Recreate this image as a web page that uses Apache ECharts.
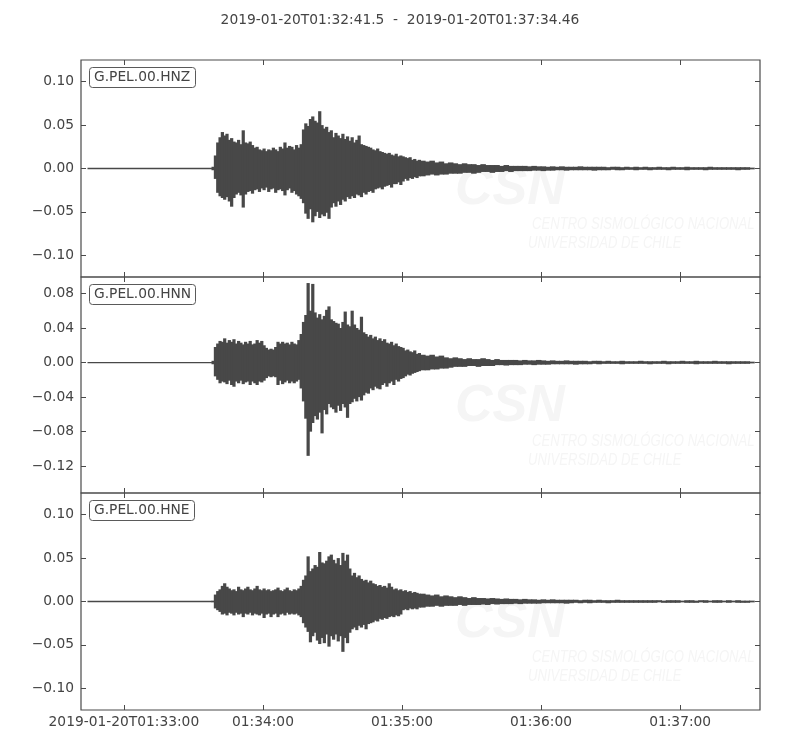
<!DOCTYPE html>
<html>
<head>
<meta charset="utf-8">
<script src="https://cdn.jsdelivr.net/npm/echarts@6/dist/echarts.min.js"></script>
<style>
html, body { margin: 0; padding: 0; background: #ffffff; }
#chart { width: 800px; height: 750px; }
</style>
</head>
<body>
<div id="chart"></div>
<script>
// ---------------- DATA ----------------
// Time in seconds relative to 2019-01-20T01:33:00
const titleText = '2019-01-20T01:32:41.5  -  2019-01-20T01:37:34.46';
const xAxisStart = -18.5;     // 01:32:41.5
const xAxisEnd = 274.46;      // 01:37:34.46
const xTickSeconds = [0, 60, 120, 180, 240];
const xTickLabels = ['2019-01-20T01:33:00', '01:34:00', '01:35:00', '01:36:00', '01:37:00'];

const channelNames = ['G.PEL.00.HNZ', 'G.PEL.00.HNN', 'G.PEL.00.HNE'];

const hnzTicks = [-0.10, -0.05, 0.00, 0.05, 0.10];
const hnnTicks = [-0.12, -0.08, -0.04, 0.00, 0.04, 0.08];
const hneTicks = [-0.10, -0.05, 0.00, 0.05, 0.10];
const hnzRange = [-0.125, 0.125];
const hnnRange = [-0.151, 0.099];
const hneRange = [-0.125, 0.125];

// quiet pre-event trace (flat) from traceStart to first bin
const traceStart = -15.7;

// envelope bins: 1 s bins from t=38 to 127, then 2 s bins from 128 to 270
const binTimes = [];
for (let t = 38; t < 128; t += 1) binTimes.push(t);
for (let t = 128; t <= 270; t += 2) binTimes.push(t);

// per-bin maximum / minimum amplitude
const hnzMax = [
  0.002, 0.015, 0.030, 0.036, 0.042, 0.038, 0.040, 0.033, 0.035, 0.031,
  0.030, 0.033, 0.028, 0.044, 0.030, 0.029, 0.031, 0.027, 0.024, 0.025,
  0.022, 0.021, 0.023, 0.020, 0.022, 0.021, 0.024, 0.022, 0.020, 0.025,
  0.023, 0.030, 0.024, 0.026, 0.025, 0.022, 0.027, 0.024, 0.028, 0.045,
  0.052, 0.049, 0.057, 0.060, 0.055, 0.053, 0.066, 0.050, 0.046, 0.048,
  0.042, 0.044, 0.036, 0.041, 0.038, 0.035, 0.040, 0.034, 0.037, 0.032,
  0.036, 0.030, 0.033, 0.038, 0.028, 0.027, 0.026, 0.025, 0.024, 0.022,
  0.021, 0.023, 0.020, 0.019, 0.018, 0.017, 0.018, 0.016, 0.015, 0.017,
  0.014, 0.015, 0.014, 0.013, 0.012, 0.013, 0.010, 0.011, 0.009, 0.010,
  0.009, 0.008, 0.009, 0.007, 0.008, 0.006, 0.007, 0.006, 0.005, 0.006,
  0.005, 0.005, 0.004, 0.005, 0.004, 0.004, 0.004, 0.003, 0.004, 0.003,
  0.003, 0.003, 0.003, 0.0025, 0.003, 0.0025, 0.0025, 0.002, 0.0025, 0.002,
  0.0025, 0.002, 0.002, 0.002, 0.0025, 0.002, 0.002, 0.002, 0.002, 0.002,
  0.0015, 0.002, 0.002, 0.0015, 0.002, 0.0015, 0.002, 0.0015, 0.002, 0.0015,
  0.0015, 0.002, 0.0015, 0.0015, 0.002, 0.0015, 0.0015, 0.002, 0.0015, 0.0015,
  0.0015, 0.0015, 0.002, 0.0015, 0.0015, 0.0015, 0.0015, 0.0015, 0.0015, 0.0015,
  0.0015, 0.001
];
const hnzMin = [
  -0.002, -0.012, -0.028, -0.032, -0.034, -0.036, -0.033, -0.038, -0.044, -0.034,
  -0.030, -0.028, -0.031, -0.045, -0.030, -0.027, -0.026, -0.029, -0.025, -0.024,
  -0.027, -0.023, -0.025, -0.022, -0.027, -0.024, -0.023, -0.028, -0.025, -0.024,
  -0.026, -0.031, -0.025, -0.023, -0.028, -0.026, -0.030, -0.032, -0.035, -0.040,
  -0.052, -0.058, -0.047, -0.062, -0.055, -0.050, -0.057, -0.053, -0.055, -0.051,
  -0.058, -0.045, -0.040, -0.044, -0.038, -0.042, -0.036, -0.038, -0.033, -0.035,
  -0.032, -0.034, -0.030, -0.031, -0.033, -0.028, -0.030, -0.027, -0.026, -0.028,
  -0.024, -0.023, -0.022, -0.024, -0.021, -0.020, -0.019, -0.022, -0.018, -0.018,
  -0.016, -0.019, -0.015, -0.012, -0.014, -0.011, -0.012, -0.010, -0.011, -0.009,
  -0.009, -0.008, -0.007, -0.008, -0.007, -0.007, -0.006, -0.006, -0.006, -0.005,
  -0.005, -0.006, -0.005, -0.004, -0.004, -0.005, -0.004, -0.004, -0.003, -0.004,
  -0.003, -0.003, -0.003, -0.003, -0.0025, -0.0025, -0.003, -0.0025, -0.0025, -0.002,
  -0.002, -0.0025, -0.002, -0.002, -0.002, -0.002, -0.002, -0.0025, -0.002, -0.002,
  -0.002, -0.0015, -0.002, -0.002, -0.0015, -0.0015, -0.002, -0.0015, -0.0015, -0.002,
  -0.0015, -0.0015, -0.0015, -0.002, -0.0015, -0.0015, -0.0015, -0.002, -0.0015, -0.0015,
  -0.0015, -0.002, -0.0015, -0.0015, -0.0015, -0.0015, -0.0015, -0.0015, -0.002, -0.0015,
  -0.0015, -0.001
];

const hnnMax = [
  0.002, 0.018, 0.022, 0.025, 0.024, 0.028, 0.023, 0.026, 0.024, 0.027,
  0.022, 0.025, 0.023, 0.021, 0.024, 0.022, 0.025, 0.021, 0.022, 0.026,
  0.023, 0.025, 0.020, 0.017, 0.015, 0.016, 0.015, 0.018, 0.024, 0.022,
  0.024, 0.022, 0.023, 0.021, 0.024, 0.022, 0.021, 0.026, 0.033, 0.047,
  0.055, 0.092, 0.060, 0.091, 0.058, 0.052, 0.056, 0.050, 0.054, 0.061,
  0.065, 0.050, 0.048, 0.046, 0.045, 0.040, 0.047, 0.059, 0.044, 0.042,
  0.060, 0.044, 0.040, 0.038, 0.053, 0.035, 0.033, 0.030, 0.032, 0.028,
  0.030, 0.026, 0.028, 0.025, 0.027, 0.023, 0.022, 0.024, 0.020, 0.022,
  0.019, 0.018, 0.017, 0.014, 0.015, 0.013, 0.012, 0.014, 0.010, 0.011,
  0.009, 0.008, 0.009, 0.007, 0.008, 0.006, 0.005, 0.006, 0.005, 0.004,
  0.005, 0.004, 0.004, 0.005, 0.004, 0.003, 0.004, 0.003, 0.003, 0.003,
  0.003, 0.0025, 0.003, 0.0025, 0.0025, 0.003, 0.0025, 0.002, 0.0025, 0.002,
  0.002, 0.0025, 0.002, 0.002, 0.002, 0.002, 0.0015, 0.002, 0.002, 0.0015,
  0.002, 0.0015, 0.0015, 0.002, 0.0015, 0.0015, 0.0015, 0.002, 0.0015, 0.0015,
  0.0015, 0.0015, 0.002, 0.0015, 0.0015, 0.0015, 0.002, 0.0015, 0.0015, 0.002,
  0.0015, 0.0015, 0.0015, 0.002, 0.0015, 0.0015, 0.0015, 0.0015, 0.0015, 0.0015,
  0.0015, 0.001
];
const hnnMin = [
  -0.002, -0.016, -0.020, -0.024, -0.022, -0.023, -0.025, -0.021, -0.026, -0.028,
  -0.022, -0.024, -0.021, -0.025, -0.023, -0.022, -0.026, -0.022, -0.024, -0.026,
  -0.022, -0.023, -0.021, -0.018, -0.016, -0.017, -0.016, -0.017, -0.026, -0.021,
  -0.025, -0.023, -0.021, -0.024, -0.022, -0.024, -0.022, -0.020, -0.030, -0.045,
  -0.065, -0.108, -0.080, -0.070, -0.062, -0.066, -0.058, -0.082, -0.055, -0.060,
  -0.048, -0.052, -0.054, -0.058, -0.050, -0.056, -0.048, -0.052, -0.064, -0.048,
  -0.046, -0.042, -0.045, -0.040, -0.044, -0.038, -0.035, -0.036, -0.030, -0.032,
  -0.028, -0.030, -0.031, -0.026, -0.024, -0.028, -0.024, -0.022, -0.026, -0.020,
  -0.022, -0.019, -0.018, -0.016, -0.014, -0.015, -0.013, -0.012, -0.011, -0.010,
  -0.009, -0.009, -0.008, -0.008, -0.007, -0.007, -0.006, -0.005, -0.005, -0.005,
  -0.004, -0.004, -0.005, -0.004, -0.004, -0.004, -0.003, -0.003, -0.0035, -0.003,
  -0.003, -0.003, -0.0025, -0.0025, -0.003, -0.0025, -0.0025, -0.0025, -0.002, -0.002,
  -0.002, -0.002, -0.002, -0.0025, -0.002, -0.002, -0.002, -0.0015, -0.002, -0.0015,
  -0.0015, -0.0015, -0.0015, -0.002, -0.0015, -0.0015, -0.0015, -0.0015, -0.0015, -0.002,
  -0.0015, -0.0015, -0.0015, -0.002, -0.0015, -0.0015, -0.0015, -0.0015, -0.0015, -0.002,
  -0.0015, -0.0015, -0.0015, -0.0015, -0.0015, -0.0015, -0.002, -0.0015, -0.0015, -0.0015,
  -0.0015, -0.001
];

const hneMax = [
  0.001, 0.008, 0.012, 0.014, 0.018, 0.021, 0.017, 0.015, 0.013, 0.014,
  0.012, 0.017, 0.014, 0.013, 0.015, 0.017, 0.014, 0.013, 0.015, 0.018,
  0.014, 0.013, 0.015, 0.013, 0.014, 0.012, 0.013, 0.014, 0.016, 0.013,
  0.012, 0.014, 0.016, 0.013, 0.012, 0.014, 0.013, 0.015, 0.018, 0.025,
  0.030, 0.052, 0.035, 0.038, 0.042, 0.040, 0.057, 0.045, 0.044, 0.047,
  0.052, 0.054, 0.048, 0.044, 0.050, 0.042, 0.056, 0.047, 0.054, 0.038,
  0.030, 0.033, 0.028, 0.030, 0.026, 0.024, 0.025, 0.022, 0.024, 0.021,
  0.020, 0.018, 0.019, 0.017, 0.018, 0.016, 0.021, 0.017, 0.014, 0.015,
  0.013, 0.014, 0.012, 0.013, 0.011, 0.012, 0.010, 0.011, 0.010, 0.009,
  0.009, 0.008, 0.007, 0.008, 0.006, 0.007, 0.006, 0.005, 0.006, 0.005,
  0.004, 0.005, 0.004, 0.004, 0.0035, 0.004, 0.0035, 0.003, 0.0035, 0.003,
  0.003, 0.0025, 0.003, 0.0025, 0.0025, 0.002, 0.0025, 0.002, 0.0025, 0.002,
  0.002, 0.002, 0.002, 0.002, 0.0015, 0.002, 0.002, 0.0015, 0.002, 0.0015,
  0.0015, 0.0015, 0.002, 0.0015, 0.0015, 0.0015, 0.0015, 0.0015, 0.0015, 0.0015,
  0.0015, 0.0015, 0.001, 0.0015, 0.0015, 0.0015, 0.001, 0.0015, 0.0015, 0.001,
  0.0015, 0.0015, 0.001, 0.0015, 0.0015, 0.001, 0.0015, 0.001, 0.0015, 0.001,
  0.001, 0.001
];
const hneMin = [
  -0.001, -0.008, -0.010, -0.012, -0.015, -0.014, -0.016, -0.013, -0.014, -0.016,
  -0.013, -0.015, -0.014, -0.018, -0.014, -0.015, -0.013, -0.016, -0.014, -0.015,
  -0.016, -0.014, -0.019, -0.015, -0.014, -0.018, -0.015, -0.014, -0.018, -0.015,
  -0.014, -0.016, -0.013, -0.015, -0.014, -0.015, -0.014, -0.016, -0.018, -0.025,
  -0.030, -0.035, -0.047, -0.040, -0.036, -0.045, -0.049, -0.042, -0.048, -0.038,
  -0.052, -0.040, -0.044, -0.038, -0.046, -0.040, -0.058, -0.042, -0.048, -0.036,
  -0.032, -0.030, -0.033, -0.028, -0.030, -0.027, -0.032, -0.026, -0.025, -0.024,
  -0.022, -0.023, -0.020, -0.021, -0.019, -0.020, -0.018, -0.017, -0.018, -0.016,
  -0.017, -0.015, -0.010, -0.009, -0.010, -0.008, -0.009, -0.008, -0.009, -0.007,
  -0.007, -0.006, -0.006, -0.005, -0.006, -0.005, -0.005, -0.005, -0.004, -0.005,
  -0.004, -0.004, -0.004, -0.0035, -0.004, -0.003, -0.0035, -0.003, -0.003, -0.003,
  -0.0025, -0.003, -0.0025, -0.0025, -0.0025, -0.0025, -0.002, -0.002, -0.002, -0.002,
  -0.002, -0.0025, -0.002, -0.0015, -0.002, -0.0015, -0.002, -0.0015, -0.0015, -0.0015,
  -0.002, -0.0015, -0.0015, -0.0015, -0.0015, -0.0015, -0.0015, -0.0015, -0.0015, -0.0015,
  -0.0015, -0.001, -0.0015, -0.0015, -0.0015, -0.0015, -0.001, -0.0015, -0.0015, -0.0015,
  -0.001, -0.0015, -0.001, -0.0015, -0.0015, -0.001, -0.0015, -0.001, -0.0015, -0.0015,
  -0.0015, -0.001
];

// ---------------- LAYOUT / STYLE ----------------
const FONT = '"DejaVu Sans", sans-serif';
const TEXT_COLOR = '#444444';
const FRAME_COLOR = '#4a4a4a';
const TRACE_COLOR = '#484848';
const FS = 13.8;
const GRID_LEFT = 81, GRID_RIGHT = 40;
const panelTops = [60, 277, 493];
const panelHeights = [217, 216, 217];

const ranges = [hnzRange, hnnRange, hneRange];
const yTicks = [hnzTicks, hnnTicks, hneTicks];
const traces = [[hnzMax, hnzMin], [hnnMax, hnnMin], [hneMax, hneMin]];

// bins as [startTime, width, max, min]
function buildBins(maxArr, minArr) {
  const out = [];
  for (let i = 0; i < binTimes.length; i++) {
    const t = binTimes[i];
    const w = (i + 1 < binTimes.length) ? binTimes[i + 1] - t : 2;
    out.push([t, w, maxArr[i], minArr[i]]);
  }
  return out;
}

function renderBin(params, api) {
  const t = api.value(0), w = api.value(1), hi = api.value(2), lo = api.value(3);
  const p1 = api.coord([t, hi]);
  const p2 = api.coord([t + w, lo]);
  const h = Math.max(p2[1] - p1[1], 1.2);
  const cy = (p1[1] + p2[1]) / 2;
  return {
    type: 'rect',
    shape: { x: p1[0] - 0.45, y: cy - h / 2, width: (p2[0] - p1[0]) + 0.9, height: h },
    style: { fill: TRACE_COLOR, stroke: null }
  };
}

function fmtY(v) {
  const s = Math.abs(v).toFixed(2);
  return (v < -1e-9 ? '\u2212' : '') + s;
}
function fmtX(v) {
  for (let i = 0; i < xTickSeconds.length; i++) {
    if (Math.abs(xTickSeconds[i] - v) < 1e-6) return xTickLabels[i];
  }
  return '';
}

const grids = [], xAxes = [], yAxes = [], series = [], titles = [], graphics = [];

titles.push({
  text: titleText,
  left: 'center',
  top: 12,
  padding: 0,
  textStyle: { fontFamily: FONT, fontSize: FS, fontWeight: 'normal', color: TEXT_COLOR, lineHeight: 16 }
});

for (let p = 0; p < 3; p++) {
  grids.push({
    left: GRID_LEFT, right: GRID_RIGHT, top: panelTops[p], height: panelHeights[p],
    show: true, borderColor: FRAME_COLOR, borderWidth: 1.2, backgroundColor: 'transparent'
  });
  const tickStyle = { color: FRAME_COLOR, width: 1 };
  const noLine = { show: false, onZero: false };
  xAxes.push({
    type: 'value', gridIndex: p, position: 'bottom', min: xAxisStart, max: xAxisEnd,
    axisLine: noLine,
    axisTick: { show: true, inside: true, length: 5, customValues: xTickSeconds, lineStyle: tickStyle },
    axisLabel: {
      show: p === 2, customValues: xTickSeconds, formatter: fmtX, margin: 5,
      fontFamily: FONT, fontSize: FS, color: TEXT_COLOR
    },
    splitLine: { show: false }
  });
  xAxes.push({
    type: 'value', gridIndex: p, position: 'top', min: xAxisStart, max: xAxisEnd,
    axisLine: noLine,
    axisTick: { show: true, inside: true, length: 5, customValues: xTickSeconds, lineStyle: tickStyle },
    axisLabel: { show: false },
    splitLine: { show: false }
  });
  yAxes.push({
    type: 'value', gridIndex: p, position: 'left', min: ranges[p][0], max: ranges[p][1],
    axisLine: noLine,
    axisTick: { show: true, inside: true, length: 5, customValues: yTicks[p], lineStyle: tickStyle },
    axisLabel: {
      show: true, customValues: yTicks[p], formatter: fmtY, margin: 7,
      fontFamily: FONT, fontSize: FS, color: TEXT_COLOR
    },
    splitLine: { show: false }
  });
  yAxes.push({
    type: 'value', gridIndex: p, position: 'right', min: ranges[p][0], max: ranges[p][1],
    axisLine: noLine,
    axisTick: { show: true, inside: true, length: 5, customValues: yTicks[p], lineStyle: tickStyle },
    axisLabel: { show: false },
    splitLine: { show: false }
  });
  series.push({
    type: 'line', name: channelNames[p] + ' pre', xAxisIndex: 2 * p, yAxisIndex: 2 * p,
    data: [[traceStart, 0], [binTimes[0], 0]],
    showSymbol: false, symbol: 'none', silent: true, z: 5,
    lineStyle: { color: TRACE_COLOR, width: 1.3 }
  });
  series.push({
    type: 'custom', name: channelNames[p], xAxisIndex: 2 * p, yAxisIndex: 2 * p,
    data: buildBins(traces[p][0], traces[p][1]),
    encode: { x: [0], y: [2, 3] },
    renderItem: renderBin, silent: true, z: 5
  });
  titles.push({
    text: channelNames[p],
    left: 89, top: panelTops[p] + 7,
    padding: [3, 5, 3, 5],
    borderColor: '#5a5a5a', borderWidth: 1, borderRadius: 3,
    backgroundColor: '#ffffff',
    textStyle: { fontFamily: FONT, fontSize: FS, fontWeight: 'normal', color: TEXT_COLOR, lineHeight: 15 }
  });
  const wmColor = '#f5f5f5';
  graphics.push({
    type: 'text', x: 455, y: panelTops[p] + 130, z: 0, silent: true,
    style: { text: 'CSN', fill: wmColor, font: 'italic bold 52px "Liberation Sans", sans-serif', textVerticalAlign: 'middle' }
  });
  graphics.push({
    type: 'text', x: 532, y: panelTops[p] + 164, z: 0, silent: true, scaleX: 0.77,
    style: { text: 'CENTRO SISMOLÓGICO NACIONAL', fill: wmColor, font: 'italic 17px "Liberation Sans", sans-serif', textVerticalAlign: 'middle' }
  });
  graphics.push({
    type: 'text', x: 528, y: panelTops[p] + 183, z: 0, silent: true, scaleX: 0.77,
    style: { text: 'UNIVERSIDAD DE CHILE', fill: wmColor, font: 'italic 17px "Liberation Sans", sans-serif', textVerticalAlign: 'middle' }
  });
}

const chart = echarts.init(document.getElementById('chart'), null, { renderer: 'canvas' });
chart.setOption({
  animation: false,
  backgroundColor: '#ffffff',
  title: titles,
  grid: grids,
  xAxis: xAxes,
  yAxis: yAxes,
  series: series,
  graphic: graphics
});
</script>
</body>
</html>
